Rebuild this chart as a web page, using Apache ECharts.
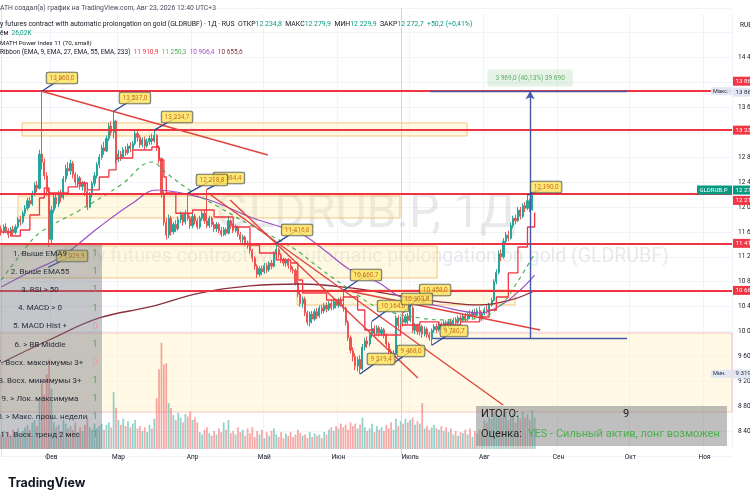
<!DOCTYPE html>
<html><head><meta charset="utf-8">
<script src="https://cdn.jsdelivr.net/npm/echarts@6/dist/echarts.min.js"></script>
<style>html,body{margin:0;padding:0;background:#fff}#c{width:750px;height:500px}</style>
</head><body><div id="c"></div>
<script>
// ---------- data ----------
const dayCount = 306; // 2026-01-11 .. 2026-11-12 (daily bars incl. future space)
const monthNames = ['Янв','Фев','Мар','Апр','Май','Июн','Июль','Авг','Сен','Окт','Ноя','Дек'];
const yTickLabels = [14400,13600,12800,12400,12000,11600,11200,10800,10400,10000,9600,9200,8800,8400];
// [open, close, low, high]
const candles = [
[11650,11600,11540,11700],[11600,11680,11570,11720],[11680,11620,11580,11740],[11620,11560,11500,11660],[11560,11640,11530,11680],
[11640,11590,11550,11700],[11590,11680,11560,11720],[11680,11800,11650,11840],[11800,11760,11700,11860],[11760,11900,11730,11940],
[11900,11980,11850,12030],[11980,12100,11940,12150],[12100,12050,11990,12160],[12050,12220,12020,12260],[12220,12350,12180,12400],
[12350,12300,12240,12420],[12300,12850,12280,12920],[12850,12720,12600,13860],[12720,12500,12440,12780],[12500,12250,12180,12560],
[12250,11480,11360,12300],[11480,11950,11420,12020],[11950,12150,11900,12200],[12150,12050,11980,12210],[12050,12220,12000,12260],
[12220,12150,12080,12280],[12150,12450,12120,12500],[12450,12620,12400,12680],[12620,12580,12500,12720],[12580,12700,12520,12760],
[12700,12520,12460,12740],[12520,12400,12340,12560],[12400,12470,12350,12520],[12470,12330,12280,12500],[12330,12380,12260,12420],
[12380,12250,12180,12420],[12250,12000,11950,12300],[12000,12200,11980,12240],[12200,12380,12150,12420],[12380,12500,12330,12560],
[12500,12680,12460,12720],[12680,12800,12620,12850],[12800,12950,12760,13000],[12950,12900,12840,13050],[12900,13100,12880,13150],
[13100,13300,13060,13350],[13300,13200,13150,13380],[13200,13380,13100,13537],[13380,12760,12700,13400],[12760,12850,12720,12920],
[12850,12800,12740,12900],[12800,12920,12770,12960],[12920,12870,12820,12980],[12870,12980,12840,13020],[12980,12940,12880,13040],
[12940,13020,12900,13060],[13020,13180,12990,13230],[13180,13120,13050,13220],[13120,13000,12950,13160],[13000,13080,12960,13120],
[13080,12980,12920,13130],[12980,13050,12950,13100],[13050,13100,13000,13150],[13100,13060,13000,13180],[13060,13150,13030,13234.7],
[13150,12950,12900,13170],[12950,12780,12700,12990],[12780,12220,12150,12800],[12220,11750,11700,12260],[11750,11550,11480,11820],
[11550,11820,11500,11880],[11820,11600,11540,11860],[11600,11720,11560,11760],[11720,11650,11600,11790],[11650,11800,11620,11850],
[11800,11880,11740,11930],[11880,11760,11700,11920],[11760,11900,11720,11950],[11900,11820,11780,12218.8],[11820,11700,11650,11860],
[11700,11850,11660,11900],[11850,11780,11720,11890],[11780,11680,11640,11820],[11680,11820,11650,11860],[11820,11900,11780,11950],
[11900,11780,11730,11960],[11780,11700,11660,12284.4],[11700,11820,11660,11860],[11820,11720,11680,11850],[11720,11650,11600,11760],
[11650,11720,11600,11760],[11720,11620,11580,11750],[11620,11560,11520,11680],[11560,11640,11530,11680],[11640,11580,11540,11670],
[11580,11780,11560,11850],[11780,11700,11650,11800],[11700,11620,11580,11730],[11620,11680,11590,11720],[11680,11560,11520,11700],
[11560,11480,11430,11600],[11480,11520,11420,11560],[11520,11420,11380,11540],[11420,11380,11330,11460],[11380,11300,11250,11440],
[11300,11180,11120,11330],[11180,11050,10990,11210],[11050,10920,10860,11080],[10920,11010,10880,11050],[11010,10960,10900,11060],
[10960,11060,10930,11100],[11060,10990,10940,11100],[10990,11100,10960,11130],[11100,11050,11000,11150],[11050,11250,11030,11290],
[11250,11320,11200,11416.8],[11320,11230,11170,11350],[11230,11160,11100,11260],[11160,11100,11050,11190],[11100,11150,11040,11180],
[11150,11060,11010,11180],[11060,11000,10960,11090],[11000,10980,10930,11040],[10980,10780,10740,11010],[10780,10600,10550,10820],
[10600,10450,10400,10650],[10450,10520,10380,10560],[10520,10300,10250,10560],[10300,10150,10100,10340],[10150,10280,10080,10320],
[10280,10200,10130,10330],[10200,10320,10170,10360],[10320,10250,10200,10380],[10250,10380,10220,10420],[10380,10330,10280,10430],
[10330,10420,10290,10460],[10420,10360,10310,10470],[10360,10450,10330,10490],[10450,10380,10340,10500],[10380,10480,10350,10520],
[10480,10420,10370,10530],[10420,10500,10380,10540],[10500,10440,10400,10560],[10440,10380,10320,10660.7],[10380,10150,10100,10400],
[10150,9900,9850,10180],[9900,9700,9650,9940],[9700,9600,9520,9750],[9600,9450,9380,9650],[9450,9550,9360,9600],
[9550,9400,9319.4,9620],[9400,9750,9380,9800],[9750,9850,9700,9900],[9850,9800,9740,9920],[9800,9950,9760,10000],
[9950,10050,9900,10164],[10050,9980,9920,10100],[9980,10060,9940,10100],[10060,9970,9920,10090],[9970,10030,9930,10070],
[10030,9940,9890,10060],[9940,9800,9750,9970],[9800,9680,9620,9830],[9680,9600,9468,9720],[9600,9650,9560,9700],
[9650,10220,9620,10260],[10220,10100,10050,10260],[10100,10200,10060,10240],[10200,10150,10080,10303.8],[10150,10240,10100,10280],
[10240,10180,10120,10300],[10180,10380,10150,10420],[10380,10020,9980,10420],[10020,10100,9960,10140],[10100,10000,9950,10130],
[10000,10080,9940,10120],[10080,9960,9900,10110],[9960,10040,9920,10080],[10040,9950,9900,10070],[9950,9900,9850,9990],
[9900,10020,9780.7,10050],[10020,10080,9980,10120],[10080,10030,9980,10130],[10030,10120,10000,10160],[10120,10060,10020,10150],
[10060,10140,10030,10180],[10140,10100,10050,10180],[10100,10160,10060,10200],[10160,10120,10080,10210],[10120,10180,10090,10220],
[10180,10140,10100,10230],[10140,10220,10110,10260],[10220,10180,10140,10270],[10180,10250,10150,10290],[10250,10200,10160,10300],
[10200,10280,10170,10320],[10280,10240,10200,10340],[10240,10310,10210,10350],[10310,10260,10220,10360],[10260,10340,10230,10380],
[10340,10200,10160,10400],[10200,10290,10170,10320],[10290,10350,10260,10390],[10350,10320,10280,10420],[10320,10430,10300,10460],
[10430,10500,10400,10540],[10500,10800,10480,10840],[10800,10950,10760,11000],[10950,11250,10920,11300],[11250,11200,11130,11320],
[11200,11450,11170,11500],[11450,11550,11400,11600],[11550,11500,11450,11620],[11500,11700,11480,11750],[11700,11820,11660,11860],
[11820,11780,11720,11880],[11780,11950,11760,12000],[11950,11850,11800,12000],[11850,12020,11820,12060],[12020,11980,11920,12080],
[11980,12100,11950,12190],[12100,11960,11920,12130],[11960,12234.8,11940,12250],[12234.8,12272.7,12229.9,12279.9]
];
// volume, thousands
const volumes = [
12,15,10,14,11,16,13,17,12,15, 18,20,16,22,24,19,40,58,45,62,
74,50,22,18,20,15,24,21,17,19, 16,22,14,18,15,20,26,18,16,21,
17,19,21,16,20,22,18,47,34,24, 20,25,19,23,18,21,24,17,19,15,
18,14,20,17,25,42,66,88,70,71, 38,34,28,24,30,26,22,29,27,31,
24,26,22,14,12,16,18,13,11,15, 12,17,14,22,16,24,13,15,12,18,
14,16,11,17,13,18,10,15,12,16, 9,14,11,15,17,12,10,14,9,13,
11,14,10,12,16,13,11,12,9,14, 10,13,11,12,9,14,12,16,18,15,
19,17,21,18,20,16,22,19,21,17, 20,26,18,15,17,21,14,19,16,18,
15,20,17,22,16,25,19,23,21,25, 22,24,26,20,23,21,38,17,19,16,
18,20,17,16,19,15,18,14,17,12, 15,11,14,13,16,12,17,10,15,13,
16,14,24,22,27,25,30,32,28,26, 29,31,24,27,30,22,28,25,31,26,
29,24,32,26.02
];
// Ribbon EMAs: [bar index, price]
const ema9 = [[0,11599],[4,11535],[8,11631],[12,11872],[16,12145],[18,12306],[20,12225],[28,12322],[32,12386],[36,12274],[41,12482],[45,12595],[48,12787],[55,12916],[63,12964],[66,12755],[68,12482],[69,12225],[73,11900],[80,11952],[89,11840],[97,11679],[104,11390],[108,11262],[115,11150],[121,11101],[124,10828],[126,10619],[136,10507],[143,10555],[149,10346],[152,10025],[156,9945],[163,9945],[167,10105],[175,10154],[183,10105],[192,10154],[200,10234],[204,10346],[207,10555],[212,10941],[216,11358],[220,11679],[223,11910.9]];
const ema27 = [[0,10828],[8,11230],[16,11583],[33,11952],[50,12354],[63,12723],[69,12546],[80,12241],[91,12000],[104,11711],[122,11342],[133,11021],[146,10668],[158,10378],[175,10218],[188,10186],[200,10218],[209,10427],[215,10748],[223,11250.3]];
const ema55 = [[0,10716],[12,10957],[25,11197],[41,11679],[55,12065],[65,12273],[73,12241],[87,12113],[104,11840],[117,11680],[125,11583],[135,11310],[146,10989],[158,10780],[167,10555],[183,10410],[200,10298],[209,10427],[217,10668],[223,10906.4]];
const ema233 = [[0,9495],[20,9864],[41,10218],[62,10395],[83,10619],[104,10732],[125,10764],[146,10700],[167,10571],[188,10459],[200,10427],[213,10507],[223,10655.6]];
// drawings (bar index / price)
const levels = [13860, 13234.7, 12218.8, 11416.8, 10660.7];
const zones = [[8.7,194.7,13350,13141],[7.0,166.7,12177,11824],[0.3,182.2,11374,10860],[123.7,214.8,10668,10427]];
const lowZone = [-0.5,305.5,9977,8708];
const trends = [[17,13860,111.5,12836],[86.5,12225,209.8,8821],[95.7,12113,174.2,9254],[143.3,10667,225.3,10025]];
const measureLines = [[179.3,13860,261.6,13860],[180.1,9891,261.6,9891]];
const measureArrow = [221.1,9891,221.1,13860];
const measureText = [221.1,14072,'3 969,0 (40,13%) 39 690'];
const crosshairIdx = 167.1;
// [label index, label price, point index, point price]
const callouts = [
[25.4,14072,17,13860],[55.9,13751,47,13537],[73.5,13446,64,13234.7],[95.2,12466,86,12284.4],[88.1,12434,78,12218.8],
[29.6,11214,19.6,11029.9],[123.7,11631,115,11416.8],[152.5,10908,143,10660.7],[163.8,10411,155,10164],[181.4,10668,176,10458],
[173.8,10523,168,10303.8],[189.3,10009,180,9780.7],[171.3,9688,163,9468],[158.8,9559,150,9319.4],[227.8,12322,220,12190]
];
const tableRows = ['1. Выше EMA9','2. Выше EMA55','3. RSI > 50','4. MACD > 0','5. MACD Hist +','6. > BB Middle','7. Восх. максимумы 3+','8. Восх. минимумы 3+','9. > Лок. максимума','10. > Макс. прош. недели','11. Восх. тренд 2 мес'];
const tableValues = [1,1,1,1,0,1,0,1,1,1,1];
const totalScore = 9;
const verdict = 'YES - Сильный актив, лонг возможен';

// ---------- helpers ----------
function fmt(v){const s=v.toFixed(1);const p=s.split('.');return p[0].replace(/\B(?=(\d{3})+(?!\d))/g,' ')+','+p[1];}
const dates=[];
for(let i=0;i<dayCount;i++){dates.push(new Date(Date.UTC(2026,0,11+i)).toISOString().slice(0,10));}
const isMonthStart=(idx,val)=>val.slice(8)==='01';
const FONT='Roboto';
const UP='#26a69a', DN='#ef5350';
const pair=(a)=>[{coord:[a[0],a[1]]},{coord:[a[2],a[3]]}];
const CLEAR='rgba(0,0,0,0)';

const chart=echarts.init(document.getElementById('c'),null,{renderer:'canvas',width:750,height:500});
const option={
 animation:false,
 backgroundColor:'#ffffff',
 grid:[{left:0,right:18,top:7.77,bottom:43.91,containLabel:false,outerBoundsMode:'none'},
       {left:0,right:18,top:14,bottom:51,containLabel:false,outerBoundsMode:'none'}],
 xAxis:[
  {type:'category',data:dates,gridIndex:0,boundaryGap:true,axisLine:{show:false},axisTick:{show:false},axisLabel:{show:false},splitLine:{show:false}},
  {type:'category',data:dates,gridIndex:1,boundaryGap:true,axisLine:{show:false},axisTick:{show:false},
   axisLabel:{interval:isMonthStart,formatter:v=>monthNames[+v.slice(5,7)-1],fontSize:6.5,color:'#131722',margin:5,fontFamily:FONT},
   splitLine:{show:true,interval:isMonthStart,lineStyle:{color:'#f0f3fa',width:1}}},
  {type:'value',gridIndex:0,min:-0.5,max:dayCount-0.5,show:false}
 ],
 yAxis:[
  {type:'value',gridIndex:0,position:'right',min:8000,max:15200,interval:400,
   axisLine:{show:true,lineStyle:{color:'#e0e3eb'}},axisTick:{show:false},
   axisLabel:{margin:6,fontSize:6.5,color:'#131722',fontFamily:FONT,formatter:v=>yTickLabels.indexOf(v)>=0?fmt(v):''},
   splitLine:{show:true,lineStyle:{color:'#f0f3fa'}}},
  {type:'value',gridIndex:1,min:0,max:360,show:false}
 ],
 series:[
  {name:'zones',type:'line',xAxisIndex:2,yAxisIndex:0,data:[],z:1,
   markArea:{silent:true,itemStyle:{color:'rgba(255,236,170,0.33)',borderColor:'rgba(240,185,100,0.8)',borderWidth:1},
    data:zones.map(b=>[{coord:[b[0],b[2]]},{coord:[b[1],b[3]]}]).concat([[{coord:[lowZone[0],lowZone[2]],itemStyle:{color:'rgba(255,244,205,0.5)',borderColor:'rgba(229,115,115,0.5)',borderWidth:0.8}},{coord:[lowZone[1],lowZone[3]]}]])}},
  {name:'volume',type:'bar',xAxisIndex:1,yAxisIndex:1,barWidth:'74%',z:1,
   data:volumes.map((v,i)=>({value:v,itemStyle:{color:candles[i][1]>=candles[i][0]?'rgba(38,166,154,0.5)':'rgba(239,83,80,0.5)'}}))},
  {name:'price',type:'candlestick',xAxisIndex:0,yAxisIndex:0,data:candles,barWidth:'70%',z:2,
   itemStyle:{color:UP,color0:DN,borderColor:UP,borderColor0:DN,borderWidth:1}},
  {name:'EMA233',type:'line',xAxisIndex:2,yAxisIndex:0,data:ema233,symbol:'none',smooth:0.4,z:3,lineStyle:{color:'#8b2f3c',width:1.3}},
  {name:'EMA55',type:'line',xAxisIndex:2,yAxisIndex:0,data:ema55,symbol:'none',smooth:0.4,z:3,lineStyle:{color:'#9c4fc4',width:1.2}},
  {name:'EMA27',type:'line',xAxisIndex:2,yAxisIndex:0,data:ema27,symbol:'none',smooth:0.4,z:3,lineStyle:{color:'#4caf50',width:1.2,type:[4,4]}},
  {name:'EMA9',type:'line',xAxisIndex:2,yAxisIndex:0,data:ema9,symbol:'none',step:'end',z:3,lineStyle:{color:'#f23645',width:1.3}},
  {name:'crosshair',type:'line',xAxisIndex:2,yAxisIndex:0,data:[],z:3,
   markLine:{silent:true,symbol:'none',label:{show:false},lineStyle:{color:'#c9ccd4',width:0.8,type:'solid'},data:[{xAxis:crosshairIdx}]}},
  {name:'levels',type:'line',xAxisIndex:2,yAxisIndex:0,data:[],z:4,
   markLine:{silent:true,symbol:'none',label:{show:false},lineStyle:{color:'#ef3340',width:1.9,type:'solid'},data:levels.map(v=>({yAxis:v}))}},
  {name:'trends',type:'line',xAxisIndex:2,yAxisIndex:0,data:[],z:4,
   markLine:{silent:true,symbol:'none',label:{show:false},lineStyle:{color:'#e0443e',width:1.4,type:'solid'},data:trends.map(pair)}},
  {name:'measure',type:'line',xAxisIndex:2,yAxisIndex:0,data:[],z:5,
   markLine:{silent:true,symbol:'none',label:{show:false},lineStyle:{color:'#4657a8',width:1.4,type:'solid'},data:measureLines.map(pair)}},
  {name:'arrow',type:'line',xAxisIndex:2,yAxisIndex:0,data:[],z:5,
   markLine:{silent:true,symbol:['none','arrow'],symbolSize:[7,8],label:{show:false},lineStyle:{color:'#4657a8',width:1.4,type:'solid'},data:[pair(measureArrow)]}},
  {name:'pointers',type:'line',xAxisIndex:2,yAxisIndex:0,data:[],z:6,
   markLine:{silent:true,symbol:'none',label:{show:false},lineStyle:{color:'#2c4496',width:1.3,type:'solid'},data:callouts.map(c=>pair([c[2],c[3],c[0],c[1]]))}},
  {name:'callouts',type:'scatter',xAxisIndex:2,yAxisIndex:0,z:7,symbolSize:2,itemStyle:{color:CLEAR},silent:true,
   data:callouts.map(c=>({value:[c[0],c[1]],name:fmt(c[3])})),
   label:{show:true,position:'inside',formatter:'{b}',fontSize:6.5,fontFamily:FONT,color:'#b45309',backgroundColor:'#ffe45a',borderColor:'#27375a',borderWidth:0.8,borderRadius:1.5,padding:[2,3]}},
  {name:'measureText',type:'scatter',xAxisIndex:2,yAxisIndex:0,z:7,symbolSize:2,itemStyle:{color:CLEAR},silent:true,
   data:[{value:[measureText[0],measureText[1]],name:measureText[2]}],
   label:{show:true,position:'inside',formatter:'{b}',fontSize:6.5,fontFamily:FONT,color:'#3f9a45',backgroundColor:'rgba(102,187,106,0.22)',borderRadius:2,padding:[5,8]}}
 ]
};
chart.setOption(option);

// ---------- overlay texts / tags (positions from the chart's own scale) ----------
const yPx=v=>chart.convertToPixel({yAxisIndex:0},v);
const G=[];
function T(x,y,text,o,z){G.push({type:'text',z:z||120,silent:true,style:Object.assign({x:x,y:y,text:text,fill:'#131722',fontSize:6,fontFamily:FONT,verticalAlign:'middle',align:'left'},o||{})});}
function R(x,y,w,h,fill,z){G.push({type:'rect',z:z||110,silent:true,shape:{x:x,y:y,width:w,height:h},style:{fill:fill}});}
function axisTag(y,text,bg,fg){R(733,y-4.5,30,9,bg,130);T(735.5,y,text,{fill:fg,fontSize:6.2},131);}

// watermark
G.push({type:'text',z:0,silent:true,style:{x:366,y:215,text:'GLDRUB.P, 1Д',fill:'rgba(120,123,134,0.17)',fontSize:48,fontFamily:FONT,align:'center',verticalAlign:'middle'}});
G.push({type:'text',z:0,silent:true,style:{x:366,y:257,text:'Daily futures contract with automatic prolongation on gold (GLDRUBF)',fill:'rgba(120,123,134,0.17)',fontSize:19.5,fontFamily:FONT,align:'center',verticalAlign:'middle'}});

// header
const last=candles[candles.length-1];
T(0,8,'ATH создал(а) график на TradingView.com, Авг 23, 2026 12:40 UTC+3',{fill:'#4a4e59',fontSize:6.8});
const HS=6.9;
G.push({type:'text',z:120,silent:true,style:{x:0,y:24,verticalAlign:'middle',fontFamily:FONT,fontSize:HS,
 text:'{d|y futures contract with automatic prolongation on gold (GLDRUBF) · 1Д · RUS  ОТКР}{v|'+fmt(last[0])+'}{d|  МАКС}{v|'+fmt(last[3])+'}{d|  МИН}{v|'+fmt(last[2])+'}{d|  ЗАКР}{v|'+fmt(last[1])+'  +50,2 (+0,41%)}',
 rich:{d:{fill:'#131722',fontSize:HS,fontFamily:FONT},v:{fill:'#089981',fontSize:HS,fontFamily:FONT}}}});
G.push({type:'text',z:120,silent:true,style:{x:0,y:33,verticalAlign:'middle',fontFamily:FONT,fontSize:6.5,text:'{d|ём}{v|  26,02K}',rich:{d:{fill:'#131722',fontSize:6.5,fontFamily:FONT},v:{fill:'#089981',fontSize:6.5,fontFamily:FONT}}}});
T(0,43,'MATH Power Index 11 (70, small)',{fontSize:6.2});
const RS=6.5;
G.push({type:'text',z:120,silent:true,style:{x:0,y:52,verticalAlign:'middle',fontFamily:FONT,fontSize:RS,
 text:'{d|Ribbon (EMA, 9, EMA, 27, EMA, 55, EMA, 233)}{a|  '+fmt(ema9[ema9.length-1][1])+'}{b|  '+fmt(ema27[ema27.length-1][1])+'}{c|  '+fmt(ema55[ema55.length-1][1])+'}{e|  '+fmt(ema233[ema233.length-1][1])+'}',
 rich:{d:{fill:'#131722',fontSize:RS,fontFamily:FONT},a:{fill:'#f23645',fontSize:RS,fontFamily:FONT},b:{fill:'#4caf50',fontSize:RS,fontFamily:FONT},c:{fill:'#9c4fc4',fontSize:RS,fontFamily:FONT},e:{fill:'#8b2f3c',fontSize:RS,fontFamily:FONT}}}});
T(740,25,'RUB',{fontSize:6.5});

// left checklist table
R(0,245,102,204,'rgba(115,118,128,0.42)',110);
tableRows.forEach((t,i)=>{const y=254+i*18.1;T(40,y,t,{align:'center',fontSize:8,fill:'#2a2e39'});T(95,y,String(tableValues[i]),{align:'center',fontSize:9,fill:tableValues[i]?'#4caf50':'#ef9a9a'});});

// bottom-right summary
R(476,406,251,40,'rgba(128,128,128,0.5)',110);
T(481,414.5,'ИТОГО:',{fontSize:11,fill:'#1b1b1b'});
T(626,414.5,String(totalScore),{fontSize:11,fill:'#1b1b1b',align:'center'});
T(481,434.5,'Оценка:',{fontSize:11,fill:'#2a2a2a'});
T(528,434.5,verdict,{fontSize:11,fill:'#4caf50'});

// TradingView footer
T(8,483,'TradingView',{fontSize:12.5,fontWeight:'bold',fill:'#131722',fontFamily:'Inter'});

// price-axis tags
const RED='#f23645';
axisTag(yPx(13860)-10,fmt(13860),RED,'#fff');
R(711,yPx(13860)-4,21,8,'rgba(224,230,244,0.95)',130);T(713,yPx(13860),'Макс.',{fontSize:5.6,fill:'#2a2e39'},131);
axisTag(yPx(13860)+1,fmt(13860),'#e0e6f4','#2a2e39');
axisTag(yPx(13234.7),fmt(13234.7),RED,'#fff');
axisTag(yPx(12218.8)+7,fmt(12218.8),RED,'#fff');
R(697,yPx(last[1])-4.5,35,9,'#089981',130);T(699.5,yPx(last[1]),'GLDRUB.P',{fontSize:6,fill:'#fff'},131);
axisTag(yPx(last[1]),fmt(last[1]),'#089981','#fff');
axisTag(yPx(11416.8),fmt(11416.8),RED,'#fff');
axisTag(yPx(10660.7),fmt(10660.7),RED,'#fff');
R(711,yPx(9319.4)-4,21,8,'rgba(224,230,244,0.95)',130);T(713,yPx(9319.4),'Мин.',{fontSize:5.6,fill:'#2a2e39'},131);
axisTag(yPx(9319.4),fmt(9319.4),'#e0e6f4','#2a2e39');

chart.setOption({graphic:G});
</script>
</body></html>
